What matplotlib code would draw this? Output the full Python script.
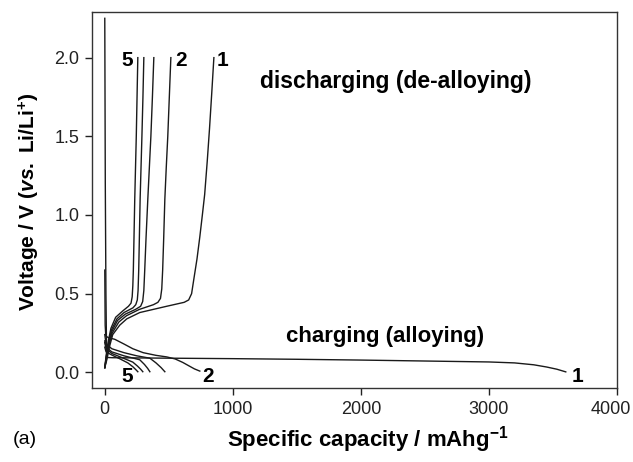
import matplotlib
matplotlib.use("Agg")
import matplotlib.pyplot as plt
from matplotlib.transforms import ScaledTranslation

plt.rcParams['font.family'] = ['Liberation Sans', 'DejaVu Sans']
plt.rcParams['mathtext.fontset'] = 'custom'
plt.rcParams['mathtext.rm'] = 'Liberation Sans:bold'
plt.rcParams['mathtext.it'] = 'Liberation Sans:bold:italic'
plt.rcParams['mathtext.bf'] = 'Liberation Sans:bold'

# ---- data (specific capacity mAh/g, voltage V) ----
# charging (alloying) curves
charge1_cap = [0, 4, 9, 13, 16, 30, 60, 200, 500, 1000, 1500, 2000, 2500, 3000, 3200, 3350, 3450, 3530, 3600]
charge1_v = [2.25, 1.2, 0.5, 0.2, 0.095, 0.094, 0.093, 0.092, 0.09, 0.087, 0.083, 0.078, 0.072, 0.066, 0.06, 0.048, 0.034, 0.02, 0.003]

charge2_cap = [0, 3, 8, 30, 78, 150, 219, 300, 400, 484, 550, 609, 660, 700, 742]
charge2_v = [0.65, 0.3, 0.23, 0.22, 0.21, 0.18, 0.15, 0.125, 0.108, 0.098, 0.085, 0.063, 0.04, 0.022, 0.008]

charge3_cap = [0, 10, 55, 150, 250, 352, 400, 440, 469]
charge3_v = [0.24, 0.18, 0.15, 0.125, 0.105, 0.09, 0.06, 0.03, 0.004]

charge4_cap = [0, 10, 55, 150, 273, 310, 335, 352]
charge4_v = [0.2, 0.16, 0.13, 0.105, 0.08, 0.05, 0.025, 0.004]

charge5_cap = [0, 10, 55, 130, 219, 255, 280, 297]
charge5_v = [0.19, 0.15, 0.12, 0.095, 0.065, 0.04, 0.02, 0.004]

charge6_cap = [0, 10, 55, 120, 180, 220, 245, 258]
charge6_v = [0.16, 0.13, 0.11, 0.085, 0.06, 0.035, 0.015, 0.004]

# discharging (de-alloying) curves
dis1_cap = [0, 16, 39, 62, 117, 172, 273, 484, 620, 655, 678, 695, 720, 742, 762, 780, 800, 818, 835, 852]
dis1_v = [0.03, 0.08, 0.17, 0.24, 0.30, 0.34, 0.38, 0.42, 0.445, 0.46, 0.5, 0.59, 0.72, 0.86, 1.0, 1.13, 1.34, 1.55, 1.77, 2.0]

dis2_cap = [0, 14, 35, 58, 110, 170, 270, 380, 415, 435, 445, 452, 460, 469, 480, 492, 504, 516]
dis2_v = [0.03, 0.09, 0.18, 0.25, 0.32, 0.36, 0.40, 0.43, 0.445, 0.47, 0.53, 0.65, 0.85, 1.1, 1.3, 1.5, 1.75, 2.0]

dis3_cap = [0, 13, 32, 55, 100, 160, 240, 280, 296, 305, 312, 322, 336, 348, 360, 372, 383]
dis3_v = [0.03, 0.1, 0.18, 0.26, 0.33, 0.37, 0.40, 0.42, 0.45, 0.52, 0.65, 0.85, 1.1, 1.3, 1.5, 1.75, 2.0]

dis4_cap = [0, 12, 30, 52, 95, 150, 220, 242, 254, 260, 265, 270, 276, 283, 290, 298, 305]
dis4_v = [0.03, 0.1, 0.19, 0.27, 0.34, 0.38, 0.41, 0.43, 0.46, 0.52, 0.65, 0.85, 1.1, 1.3, 1.5, 1.75, 2.0]

dis5_cap = [0, 11, 28, 48, 85, 140, 185, 205, 214, 219, 223, 228, 234, 240, 246, 252, 258]
dis5_v = [0.03, 0.11, 0.2, 0.28, 0.35, 0.39, 0.42, 0.44, 0.48, 0.55, 0.65, 0.85, 1.1, 1.3, 1.5, 1.75, 2.0]

charge_caps = [charge1_cap, charge2_cap, charge3_cap, charge4_cap, charge5_cap, charge6_cap]
charge_vs = [charge1_v, charge2_v, charge3_v, charge4_v, charge5_v, charge6_v]
dis_caps = [dis1_cap, dis2_cap, dis3_cap, dis4_cap, dis5_cap]
dis_vs = [dis1_v, dis2_v, dis3_v, dis4_v, dis5_v]

x_ticks = [0, 1000, 2000, 3000, 4000]
y_ticks = [0.0, 0.5, 1.0, 1.5, 2.0]

# ---- figure ----
fig = plt.figure(figsize=(6.33, 4.62), dpi=100)
ax = fig.add_axes([0.1453, 0.160, 0.8294, 0.814])

line_kw = dict(color='#1a1a1a', linewidth=1.0)
for c, v in zip(charge_caps, charge_vs):
    ax.plot(c, v, **line_kw)
for c, v in zip(dis_caps, dis_vs):
    ax.plot(c, v, **line_kw)

ax.set_xlim(-100, 4000)
ax.set_ylim(-0.1, 2.29)
ax.set_xticks(x_ticks)
ax.set_yticks(y_ticks)
ax.set_yticklabels([f"{t:.1f}" for t in y_ticks])
ax.tick_params(axis='both', direction='out', length=5, width=1, colors='#222222',
               labelsize=13, pad=4)
# keep the last x tick label inside the figure
last = ax.get_xticklabels()[-1]
last.set_transform(last.get_transform() + ScaledTranslation(-6 / 100, 0, fig.dpi_scale_trans))
for s in ax.spines.values():
    s.set_color('#333333')
    s.set_linewidth(1.0)

# labels
fig.text(29 / 633, 1 - 202 / 462, r"Voltage / V ($\mathit{vs.}$ Li/Li$^{+}$)",
         rotation=90, ha='center', va='center', fontsize=15, fontweight='bold')
fig.text(368 / 633, 1 - 440 / 462, r"Specific capacity / mAhg$^{-1}$",
         ha='center', va='center', fontsize=16, fontweight='bold')
fig.text(25 / 633, 1 - 440 / 462, "(a)", ha='center', va='center', fontsize=14)

ax.text(2273, 1.85, "discharging (de-alloying)", fontsize=16.5, fontweight='bold',
        ha='center', va='center')
ax.text(2188, 0.23, "charging (alloying)", fontsize=16, fontweight='bold',
        ha='center', va='center')

num_kw = dict(fontsize=15, fontweight='bold', ha='center', va='center')
ax.text(172, 1.98, "5", **num_kw)
ax.text(594, 1.98, "2", **num_kw)
ax.text(922, 1.98, "1", **num_kw)
ax.text(172, -0.025, "5", **num_kw)
ax.text(805, -0.025, "2", **num_kw)
ax.text(3688, -0.025, "1", **num_kw)

fig.savefig("out.png", dpi=100)
